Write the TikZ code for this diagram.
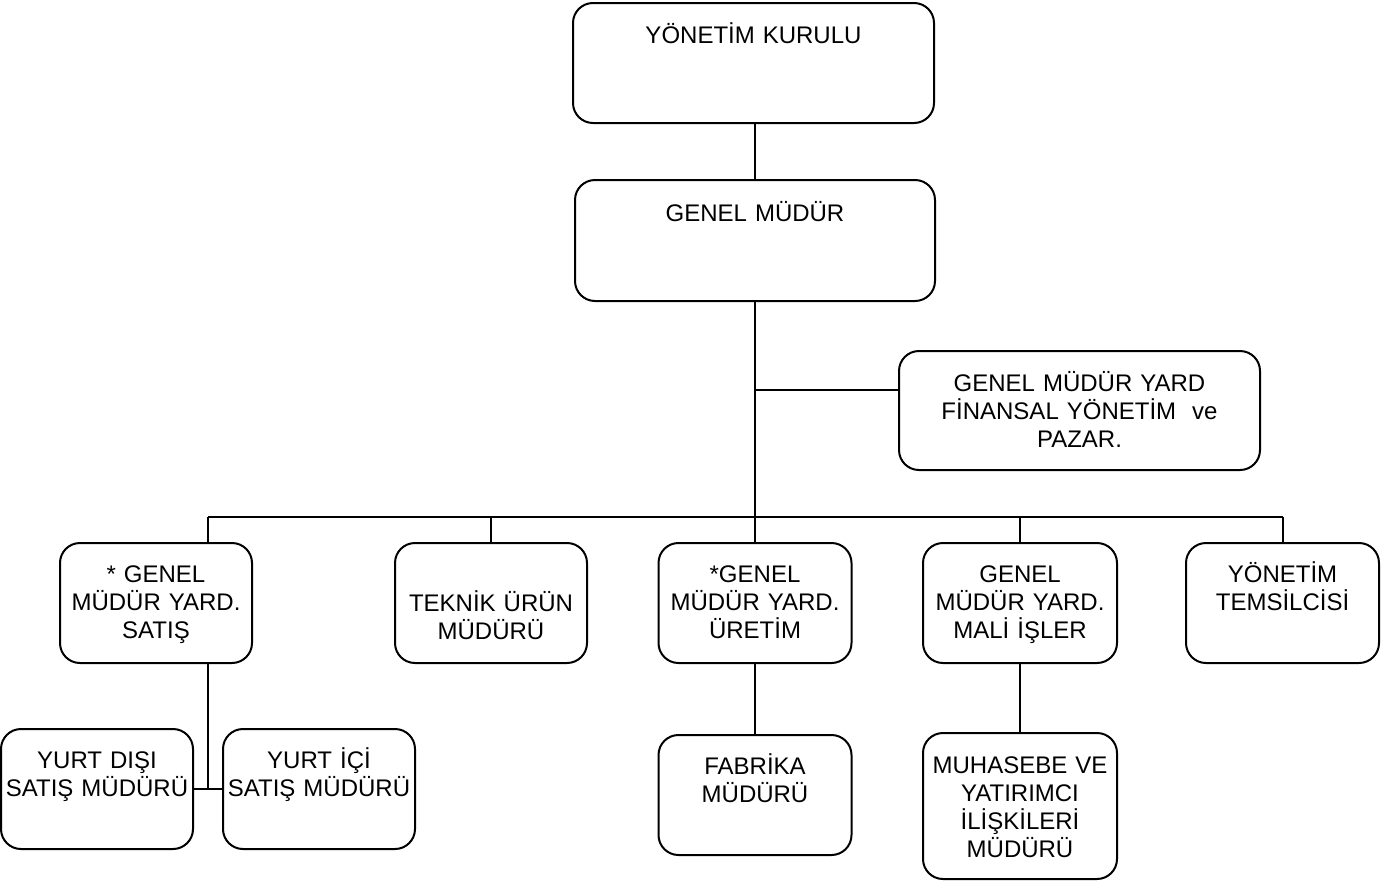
\documentclass[tikz,border=0pt]{standalone}
\usepackage{fontspec}
\setmainfont{Liberation Sans}

\begin{document}
\begin{tikzpicture}[x=0.5pt,y=0.5pt,yscale=-1,
    box/.style={draw,line width=1pt,rounded corners=10pt,inner sep=0pt,outer sep=0pt,
                align=center,font=\fontsize{12}{14}\selectfont,text height=19.5pt,text depth=40.5pt},
    line/.style={line width=1pt}]
\useasboundingbox (0,0) rectangle (1386,884);
% ust kademe
\node[box,text width=180.5pt,text height=20pt,text depth=40pt] (yk) at (753.5,63) {YÖNETİM KURULU};
\node[box,text width=180pt,text height=20.5pt,text depth=40pt] (gm) at (755,240.5) {GENEL MÜDÜR};
\node[box,text width=180.5pt,text height=20pt,text depth=39.5pt] (fy) at (1079.5,410.5) {GENEL MÜDÜR YARD\\FİNANSAL YÖNETİM\ \ ve\\PAZAR.};
% ikinci kademe
\node[box,text width=96pt] (sat) at (156,603) {* GENEL\\MÜDÜR YARD.\\SATIŞ};
\node[box,text width=96pt,text height=34pt,text depth=26pt] (tk) at (491,603) {TEKNİK ÜRÜN\\MÜDÜRÜ};
\node[box,text width=96.5pt] (ur) at (755,603) {*GENEL\\MÜDÜR YARD.\\ÜRETİM};
\node[box,text width=97pt] (ml) at (1020,603) {GENEL\\MÜDÜR YARD.\\MALİ İŞLER};
\node[box,text width=96.5pt] (ts) at (1282.5,603) {YÖNETİM\\TEMSİLCİSİ};
% ucuncu kademe
\node[box,text width=96pt] (yd) at (97,789) {YURT DIŞI\\SATIŞ MÜDÜRÜ};
\node[box,text width=96pt] (yi) at (319,789) {YURT İÇİ\\SATIŞ MÜDÜRÜ};
\node[box,text width=96.5pt] (fb) at (755,795) {FABRİKA\\MÜDÜRÜ};
\node[box,text width=97pt,text height=20pt,text depth=53pt] (mh) at (1020,806) {MUHASEBE VE\\YATIRIMCI\\İLİŞKİLERİ\\MÜDÜRÜ};
% baglantilar
\coordinate (fyj) at (755,390);
\coordinate (busl) at (208,517);
\coordinate (satj) at (208,789);
\draw[line] (gm.north |- yk.south) -- (gm.north);
\draw[line] (gm) -- (ur);
\draw[line] (fyj) -- (fyj -| fy.west);
\draw[line] (busl) -- (busl -| ts.north);
\draw[line] (busl) -- (busl |- sat.north);
\draw[line] (tk.north |- busl) -- (tk.north);
\draw[line] (ml.north |- busl) -- (ml.north);
\draw[line] (ts.north |- busl) -- (ts.north);
\draw[line] (satj |- sat.south) -- (satj);
\draw[line] (yd) -- (yi);
\draw[line] (ur) -- (fb);
\draw[line] (ml) -- (mh);
\end{tikzpicture}
\end{document}
